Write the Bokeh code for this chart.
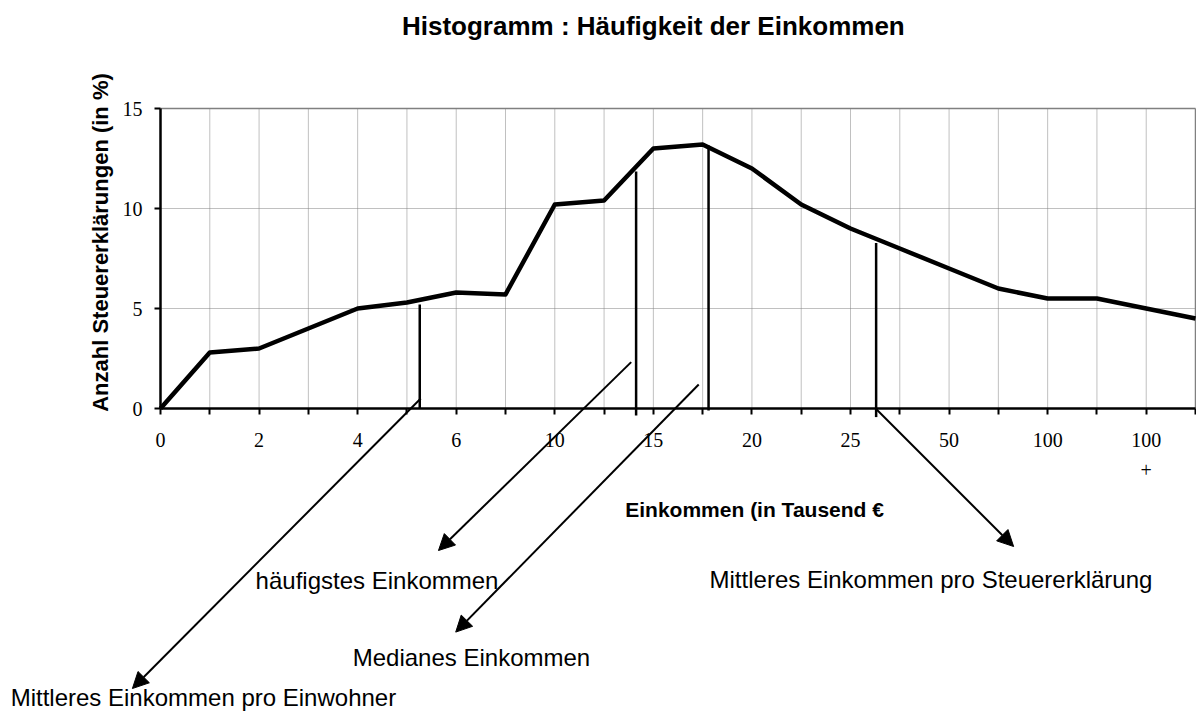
from math import pi
from bokeh.plotting import figure
from bokeh.models import Label, Arrow, NormalHead, FixedTicker, Range1d
from bokeh.embed import file_html
from bokeh.resources import INLINE

# ---- data -------------------------------------------------------------
income_idx = list(range(22))
share_pct = [0.0, 2.8, 3.0, 4.0, 5.0, 5.3, 5.8, 5.7, 10.2, 10.4, 13.0,
             13.2, 12.0, 10.2, 9.0, 8.0, 7.0, 6.0, 5.5, 5.5, 5.0, 4.5]
tick_idx = [0, 2, 4, 6, 8, 10, 12, 14, 16, 18, 20]
tick_text = ["0", "2", "4", "6", "10", "15", "20", "25", "50", "100", "100"]
y_ticks = [0, 5, 10, 15]
x_max = 21
y_max = 15

# marker lines (position on the income index axis, top and bottom in %)
marker_x = [5.26, 9.65, 11.12, 14.52]
marker_top = [5.2, 11.85, 13.15, 8.28]
marker_bottom = [0.0, -0.35, -0.1, -0.43]

# arrows from the markers to the captions
arrow_x0 = [5.28, 9.55, 10.92, 14.53]
arrow_y0 = [0.5, 2.32, 1.2, -0.05]
arrow_x1 = [-0.57, 5.64, 5.99, 17.31]
arrow_y1 = [-14.0, -7.1, -11.18, -6.9]

captions = ["Mittleres Einkommen pro Einwohner", "häufigstes Einkommen",
            "Medianes Einkommen", "Mittleres Einkommen pro Steuererklärung"]
caption_x = [-3.04, 1.93, 3.9, 11.14]
caption_y = [-14.45, -8.6, -12.45, -8.55]

# ---- figure -----------------------------------------------------------
# the frame covers the whole canvas so that captions and arrows below the
# axis are not clipped; axes are fixed at x=0 / y=0
p = figure(width=1196, height=711, x_range=Range1d(-3.2464, 21.0203),
           y_range=Range1d(-15.15, 20.4), title=None,
           output_backend="svg", toolbar_location=None, min_border=0)
p.background_fill_color = "white"
p.border_fill_color = "white"
p.outline_line_color = None
p.xgrid.visible = False
p.ygrid.visible = False

serif = "Liberation Serif"
sans = "Liberation Sans"

# grid lines and plot-area border
grid_x = income_idx[1:-1]
grid_y = y_ticks[1:-1]
p.segment(x0=grid_x, y0=[0] * len(grid_x), x1=grid_x, y1=[y_max] * len(grid_x),
          line_color="#808080", line_dash="1 1", line_width=1)
p.segment(x0=[0] * len(grid_y), y0=grid_y, x1=[x_max] * len(grid_y), y1=grid_y,
          line_color="#808080", line_dash="1 1", line_width=1)
p.segment(x0=[0, x_max], y0=[y_max, 0], x1=[x_max, x_max], y1=[y_max, y_max],
          line_color="#808080", line_width=1.5)

# x axis
xa = p.xaxis[0]
xa.fixed_location = 0
xa.bounds = (0, x_max)
xa.ticker = FixedTicker(ticks=income_idx)
overrides = {i: "" for i in income_idx}
for t, s in zip(tick_idx, tick_text):
    overrides[t] = s
xa.major_label_overrides = overrides
xa.major_label_text_font = serif
xa.major_label_text_font_size = "20px"
xa.major_label_text_color = "black"
xa.major_label_standoff = 18
xa.major_tick_out = 6
xa.major_tick_in = 0
xa.major_tick_line_width = 2
xa.major_tick_line_color = "black"
xa.minor_tick_line_color = None
xa.axis_line_width = 2.5
xa.axis_line_color = "black"

# y axis
ya = p.yaxis[0]
ya.fixed_location = 0
ya.bounds = (0, y_max)
ya.ticker = FixedTicker(ticks=y_ticks)
ya.major_label_text_font = serif
ya.major_label_text_font_size = "20px"
ya.major_label_text_color = "black"
ya.major_label_standoff = 12
ya.major_tick_out = 6
ya.major_tick_in = 0
ya.major_tick_line_width = 2
ya.major_tick_line_color = "black"
ya.minor_tick_line_color = None
ya.axis_line_width = 2.5
ya.axis_line_color = "black"

# main curve
p.line(income_idx, share_pct, line_color="black", line_width=4.5, line_join="round")

# marker lines
p.segment(x0=marker_x, y0=marker_bottom, x1=marker_x, y1=marker_top,
          line_color="black", line_width=2.5)

# captions
for txt, cx, cy in zip(captions, caption_x, caption_y):
    p.add_layout(Label(x=cx, y=cy, text=txt, text_font=sans, text_font_size="24px",
                       text_color="black", text_align="left", text_baseline="alphabetic"))

# "+" below the last "100"
p.add_layout(Label(x=20, y=-3.05, text="+", text_font=serif, text_font_size="20px",
                   text_color="black", text_align="center", text_baseline="middle"))

# x axis title
p.add_layout(Label(x=9.43, y=-5.05, text="Einkommen (in Tausend €", text_font=sans,
                   text_font_size="21px", text_font_style="bold", text_color="black",
                   text_align="left", text_baseline="alphabetic"))

# y axis title
p.add_layout(Label(x=-1.22, y=8.3, text="Anzahl Steuererklärungen (in %)", text_font=sans,
                   text_font_size="22px", text_font_style="bold", text_color="black",
                   text_align="center", text_baseline="middle", angle=pi / 2))

# chart title
p.add_layout(Label(x=10.0, y=19.15, text="Histogramm : Häufigkeit der Einkommen",
                   text_font=sans, text_font_size="26px", text_font_style="bold",
                   text_color="black", text_align="center", text_baseline="alphabetic"))

# arrows
for x0, y0, x1, y1 in zip(arrow_x0, arrow_y0, arrow_x1, arrow_y1):
    p.add_layout(Arrow(x_start=x0, y_start=y0, x_end=x1, y_end=y1,
                       end=NormalHead(size=16, fill_color="black", line_color="black"),
                       line_color="black", line_width=2))

open("out.html", "w").write(file_html(p, INLINE))
